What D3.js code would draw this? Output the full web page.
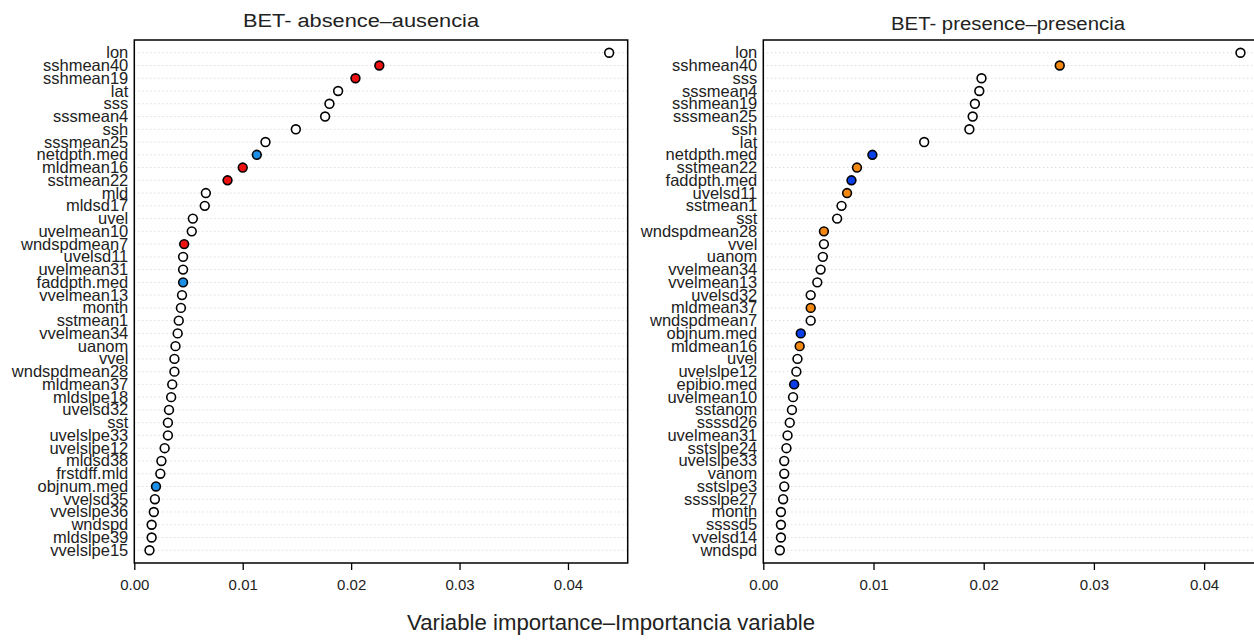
<!DOCTYPE html>
<html>
<head>
<meta charset="utf-8" />
<title>BET variable importance</title>
<script src="https://d3js.org/d3.v7.min.js"></script>
<style>
  body { margin: 0; background: #fff; font-family: "Liberation Sans", Arial, sans-serif; }
  .grid { stroke: #cdcdcd; stroke-dasharray: 1,3; stroke-width: 1; }
  .box { fill: none; stroke: #000; stroke-width: 1.5; }
  .lab { font-size: 16.5px; fill: #222; }
  .tick text { font-size: 15px; fill: #222; }
</style>
</head>
<body>
<div id="chart"></div>
<script>
// absence panel, ordered top to bottom
var absNames = ["lon","sshmean40","sshmean19","lat","sss","sssmean4","ssh","sssmean25","netdpth.med","mldmean16",
  "sstmean22","mld","mldsd17","uvel","uvelmean10","wndspdmean7","uvelsd11","uvelmean31","faddpth.med","vvelmean13",
  "month","sstmean1","vvelmean34","uanom","vvel","wndspdmean28","mldmean37","mldslpe18","uvelsd32","sst",
  "uvelslpe33","uvelslpe12","mldsd38","frstdff.mld","objnum.med","vvelsd35","vvelslpe36","wndspd","mldslpe39","vvelslpe15"];
var absValues = [0.0438,0.0226,0.0204,0.0188,0.0180,0.0176,0.0149,0.0121,0.0113,0.0100,
  0.0086,0.0066,0.0065,0.0054,0.0053,0.0046,0.0045,0.0045,0.0045,0.0044,
  0.0043,0.0041,0.0040,0.0038,0.0037,0.0037,0.0035,0.0034,0.0032,0.0031,
  0.0031,0.0028,0.0025,0.0024,0.0020,0.0019,0.0018,0.0016,0.0016,0.0014];
var absGroup = ["none","env","env","none","none","none","none","none","fad","env",
  "env","none","none","none","none","env","none","none","fad","none",
  "none","none","none","none","none","none","none","none","none","none",
  "none","none","none","none","fad","none","none","none","none","none"];

// presence panel
var preNames = ["lon","sshmean40","sss","sssmean4","sshmean19","sssmean25","ssh","lat","netdpth.med","sstmean22",
  "faddpth.med","uvelsd11","sstmean1","sst","wndspdmean28","vvel","uanom","vvelmean34","vvelmean13","uvelsd32",
  "mldmean37","wndspdmean7","objnum.med","mldmean16","uvel","uvelslpe12","epibio.med","uvelmean10","sstanom","ssssd26",
  "uvelmean31","sstslpe24","uvelslpe33","vanom","sstslpe3","sssslpe27","month","ssssd5","vvelsd14","wndspd"];
var preValues = [0.0433,0.0269,0.0198,0.0196,0.0192,0.0190,0.0187,0.0146,0.0099,0.0085,
  0.0080,0.0076,0.0071,0.0067,0.0055,0.0055,0.0054,0.0052,0.0049,0.0043,
  0.0043,0.0043,0.0034,0.0033,0.0031,0.0030,0.0028,0.0027,0.0026,0.0024,
  0.0022,0.0021,0.0019,0.0019,0.0019,0.0018,0.0016,0.0016,0.0016,0.0015];
var preGroup = ["none","env","none","none","none","none","none","none","fad","env",
  "fad","env","none","none","env","none","none","none","none","none",
  "env","none","fad","env","none","none","fad","none","none","none",
  "none","none","none","none","none","none","none","none","none","none"];

var xTicks = [0, 0.01, 0.02, 0.03, 0.04];

var W = 1254, H = 641;
var svg = d3.select("#chart").append("svg").attr("width", W).attr("height", H);

function panel(opt) {
  var n = opt.names.length;
  var x = d3.scaleLinear().domain([0, opt.xmax]).range([opt.left, opt.right]);
  var y = d3.scaleLinear().domain([0, n + 1]).range([563, 40]);
  var fill = d3.scaleOrdinal().domain(["none","env","fad"]).range(opt.colors);
  var g = svg.append("g");
  var rows = d3.range(n).map(function (i) {
    return { name: opt.names[i], value: opt.values[i], group: opt.groups[i], pos: n - i };
  });

  g.selectAll(".grid").data(rows).enter().append("line")
    .attr("class", "grid")
    .attr("x1", opt.left).attr("x2", opt.right)
    .attr("y1", function (d) { return y(d.pos); })
    .attr("y2", function (d) { return y(d.pos); });

  g.append("rect").attr("class", "box")
    .attr("x", opt.left).attr("y", 40)
    .attr("width", opt.right - opt.left).attr("height", 523);

  g.selectAll(".lab").data(rows).enter().append("text")
    .attr("class", "lab")
    .attr("x", opt.left - 6)
    .attr("y", function (d) { return y(d.pos) + 5.5; })
    .attr("text-anchor", "end")
    .text(function (d) { return d.name; });

  g.selectAll(".pt").data(rows).enter().append("circle")
    .attr("cx", function (d) { return x(d.value); })
    .attr("cy", function (d) { return y(d.pos); })
    .attr("r", 4.4)
    .attr("fill", function (d) { return fill(d.group); })
    .attr("stroke", "#000").attr("stroke-width", 1.6);

  var ax = g.append("g").attr("transform", "translate(0,563)")
    .call(d3.axisBottom(x).tickValues(xTicks).tickFormat(d3.format(".2f")).tickSize(7).tickPadding(9));
  ax.select(".domain").remove();
  ax.selectAll(".tick line").attr("stroke", "#000").attr("stroke-width", 1.3);

  svg.append("text")
    .attr("x", opt.titleX).attr("y", opt.titleY)
    .attr("text-anchor", "middle")
    .attr("textLength", opt.titleW).attr("lengthAdjust", "spacingAndGlyphs")
    .style("font-size", "18px").style("fill", "#222")
    .text(opt.title);
}

panel({ names: absNames, values: absValues, groups: absGroup,
  left: 134.3, right: 627.7, xmax: 0.04551,
  colors: ["#ffffff", "#ee1111", "#1e8fe6"],
  title: "BET- absence\u2013ausencia", titleX: 361, titleY: 27, titleW: 236 });

panel({ names: preNames, values: preValues, groups: preGroup,
  left: 763.3, right: 1258, xmax: 0.04489,
  colors: ["#ffffff", "#f2880f", "#0a3ee6"],
  title: "BET- presence\u2013presencia", titleX: 1008, titleY: 30, titleW: 234 });

svg.append("text")
  .attr("x", 611).attr("y", 630)
  .attr("text-anchor", "middle")
  .attr("textLength", 408).attr("lengthAdjust", "spacingAndGlyphs")
  .style("font-size", "22px").style("fill", "#222")
  .text("Variable importance\u2013Importancia variable");
</script>
</body>
</html>
